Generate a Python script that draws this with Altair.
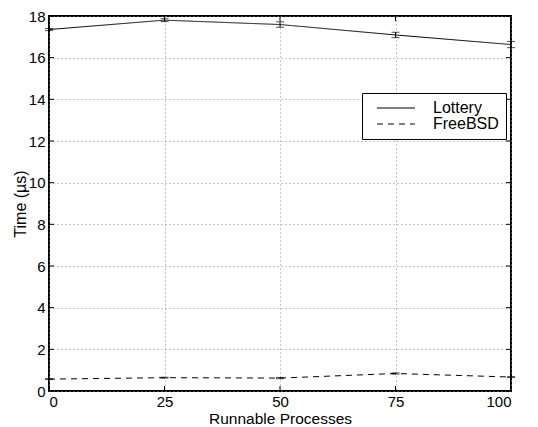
import altair as alt
import pandas as pd

# ---- data ----
procs = [0, 25, 50, 75, 100]
lottery = [17.35, 17.80, 17.59, 17.09, 16.63]
lottery_err = [0.05, 0.07, 0.13, 0.13, 0.15]
freebsd = [0.57, 0.64, 0.62, 0.84, 0.67]
freebsd_err = [0.02, 0.02, 0.03, 0.03, 0.02]
series_names = ["Lottery", "FreeBSD"]
x_ticks = [0, 25, 50, 75, 100]
y_ticks = [0, 2, 4, 6, 8, 10, 12, 14, 16, 18]

rows = []
for name, vals, errs in [("Lottery", lottery, lottery_err), ("FreeBSD", freebsd, freebsd_err)]:
    for p, v, e in zip(procs, vals, errs):
        rows.append({"procs": p, "time": v, "lo": v - e, "hi": v + e, "series": name})
df = pd.DataFrame(rows)
xt = pd.DataFrame({"v": x_ticks})
yt = pd.DataFrame({"v": y_ticks})

W, H = 462, 375
FONT = "Liberation Sans"

xscale = alt.Scale(domain=[0, 100], nice=False, zero=False)
yscale = alt.Scale(domain=[0, 18], nice=False)

base = alt.Chart(df)

lines = base.mark_line(color="black", strokeWidth=1).encode(
    x=alt.X("procs:Q", scale=xscale,
            axis=alt.Axis(values=x_ticks, title="Runnable Processes", grid=True)),
    y=alt.Y("time:Q", scale=yscale,
            axis=alt.Axis(values=y_ticks, title="Time (\u00b5s)", grid=True)),
    strokeDash=alt.StrokeDash(
        "series:N",
        scale=alt.Scale(domain=series_names, range=[[1, 0], [6, 5]]),
        legend=alt.Legend(title=None, orient="none", legendX=313, legendY=77),
    ),
)

err_rule = base.mark_rule(color="black", strokeWidth=1).encode(
    x=alt.X("procs:Q", scale=xscale),
    y=alt.Y("lo:Q", scale=yscale),
    y2="hi:Q",
)
cap_lo = base.mark_tick(color="black", orient="horizontal", size=8, thickness=1).encode(
    x=alt.X("procs:Q", scale=xscale),
    y=alt.Y("lo:Q", scale=yscale),
)
cap_hi = base.mark_tick(color="black", orient="horizontal", size=8, thickness=1).encode(
    x=alt.X("procs:Q", scale=xscale),
    y=alt.Y("hi:Q", scale=yscale),
)

TL = 5
xb = alt.Chart(xt).mark_rule(color="black").encode(
    x=alt.X("v:Q", scale=xscale), y=alt.value(H), y2=alt.value(H - TL))
xtop = alt.Chart(xt).mark_rule(color="black").encode(
    x=alt.X("v:Q", scale=xscale), y=alt.value(0), y2=alt.value(TL))
yl = alt.Chart(yt).mark_rule(color="black").encode(
    y=alt.Y("v:Q", scale=yscale), x=alt.value(0), x2=alt.value(TL))
yr = alt.Chart(yt).mark_rule(color="black").encode(
    y=alt.Y("v:Q", scale=yscale), x=alt.value(W), x2=alt.value(W - TL))

chart = alt.layer(lines, err_rule, cap_lo, cap_hi, xb, xtop, yl, yr).properties(
    width=W, height=H,
    autosize=alt.AutoSizeParams(type="none"),
    padding={"left": 49, "top": 16, "right": 27, "bottom": 36},
).configure_view(
    stroke="black", strokeWidth=2
).configure_axis(
    domain=False, ticks=False,
    gridColor="#888888", gridDash=[1, 3], gridOpacity=1, gridWidth=1,
    labelFont=FONT, labelFontSize=15, labelColor="black",
    titleFont=FONT, titleFontSize=15.5, titleFontWeight="normal", titleColor="black",
).configure_axisX(
    titlePadding=2, labelPadding=3,
).configure_axisY(
    titlePadding=0, labelPadding=4, titleFontSize=16,
).configure_legend(
    strokeColor="black", fillColor="white", padding=7,
    symbolType="M0,0H8", symbolSize=90, symbolStrokeColor="black", symbolStrokeWidth=1,
    labelFont=FONT, labelFontSize=16, labelColor="black", labelOffset=48,
    rowPadding=0, labelLimit=200,
)

chart.save("out.html", embed_options={"renderer": "svg", "actions": False})
